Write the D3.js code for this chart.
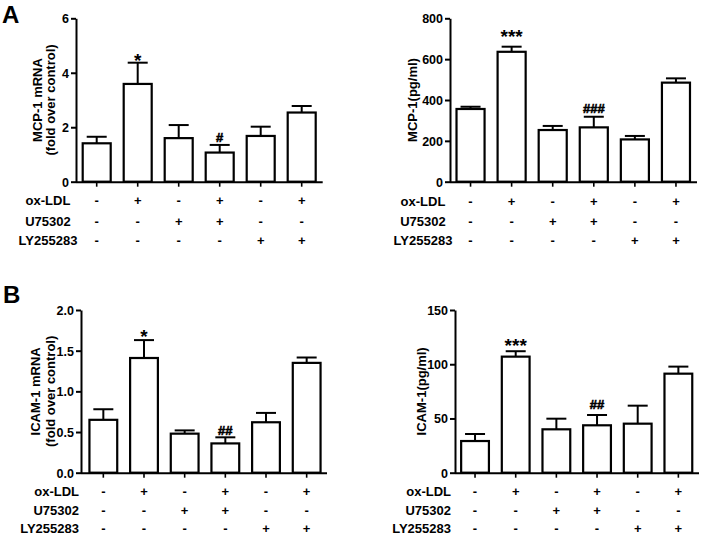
<!DOCTYPE html>
<html>
<head>
<meta charset="utf-8">
<script src="https://cdn.jsdelivr.net/npm/d3@7"></script>
<style>
  html, body { margin: 0; padding: 0; background: #fff; }
  svg { display: block; }
  text { font-family: "Liberation Sans", Arial, sans-serif; font-weight: bold; fill: #000; }
</style>
</head>
<body>
<svg id="chart" width="703" height="536"></svg>
<script>
// ---------- data ----------
const groups = ["g1", "g2", "g3", "g4", "g5", "g6"];
const rowLabels = ["ox-LDL", "U75302", "LY255283"];
const oxLDL   = ["-", "+", "-", "+", "-", "+"];
const U75302  = ["-", "-", "+", "+", "-", "-"];
const LY255283 = ["-", "-", "-", "-", "+", "+"];

const mcpMrna     = [1.41, 3.59, 1.60, 1.07, 1.68, 2.54];
const mcpMrnaErr  = [0.24, 0.78, 0.48, 0.28, 0.34, 0.24];
const mcpMrnaSig  = ["", "*", "", "#", "", ""];
const mcpMrnaTicks = [0, 2, 4, 6];

const mcpProt     = [356, 636, 253, 266, 207, 485];
const mcpProtErr  = [11, 25, 20, 52, 17, 21];
const mcpProtSig  = ["", "***", "", "###", "", ""];
const mcpProtTicks = [0, 200, 400, 600, 800];

const icamMrna    = [0.65, 1.41, 0.48, 0.36, 0.62, 1.35];
const icamMrnaErr = [0.13, 0.22, 0.04, 0.075, 0.115, 0.066];
const icamMrnaSig = ["", "*", "", "##", "", ""];
const icamMrnaTicks = [0, 0.5, 1.0, 1.5, 2.0];

const icamProt    = [29.2, 107, 40, 43.7, 45.2, 91.3];
const icamProtErr = [6.5, 5, 9.8, 9.5, 16.6, 6.5];
const icamProtSig = ["", "***", "", "##", "", ""];
const icamProtTicks = [0, 50, 100, 150];

const yLabelMcpMrna = ["MCP-1 mRNA", "(fold over control)"];
const yLabelMcpProt = ["MCP-1(pg/ml)"];
const yLabelIcamMrna = ["ICAM-1 mRNA", "(fold over control)"];
const yLabelIcamProt = ["ICAM-1(pg/ml)"];

// ---------- drawing ----------
const svg = d3.select("#chart");
const rows = [oxLDL, U75302, LY255283];

function drawPanel(cfg) {
  const g = svg.append("g");
  const x = d3.scaleBand().domain(groups)
    .range([cfg.bandStart, cfg.bandEnd])
    .paddingInner(0.317).paddingOuter(0.1585);
  const y = d3.scaleLinear().domain(cfg.domain).range([cfg.yBot, cfg.yTop]);

  // bars
  g.selectAll("rect.bar").data(cfg.values).join("rect")
    .attr("x", (d, i) => x(groups[i]))
    .attr("y", d => y(d))
    .attr("width", x.bandwidth())
    .attr("height", d => y(0) - y(d))
    .attr("fill", "#fff").attr("stroke", "#000").attr("stroke-width", 2.2);

  // error bars (upper only)
  const cap = 10;
  cfg.values.forEach((v, i) => {
    const cx = x(groups[i]) + x.bandwidth() / 2;
    const yt = y(v + cfg.errors[i]);
    g.append("line").attr("x1", cx).attr("x2", cx).attr("y1", y(v)).attr("y2", yt)
      .attr("stroke", "#000").attr("stroke-width", 2);
    g.append("line").attr("x1", cx - cap).attr("x2", cx + cap).attr("y1", yt).attr("y2", yt)
      .attr("stroke", "#000").attr("stroke-width", 2);
    const s = cfg.sig[i];
    if (s) {
      const isStar = s[0] === "*";
      const t = g.append("text").attr("x", cx).attr("y", yt + (isStar ? cfg.starOff : cfg.hashOff))
        .attr("text-anchor", "middle")
        .attr("font-size", isStar ? 19 : 13)
        .text(s);
      if (!isStar) t.attr("stroke", "#000").attr("stroke-width", 0.6);
    }
  });

  // y axis
  const yAxis = d3.axisLeft(y).tickValues(cfg.ticks).tickSize(5).tickSizeOuter(0)
    .tickFormat(cfg.fmt);
  const ya = g.append("g").attr("transform", `translate(${cfg.axisX},0)`).call(yAxis);
  ya.attr("font-family", null).attr("font-size", null);
  ya.select(".domain").attr("stroke-width", 2);
  ya.selectAll(".tick line").attr("stroke-width", 2);
  ya.selectAll(".tick text").attr("font-size", 12.5)
    .attr("x", -7).attr("dy", "0.36em");

  // x axis
  const xAxis = d3.axisBottom(x).tickSize(5).tickSizeOuter(0).tickFormat("");
  const xa = g.append("g").attr("transform", `translate(0,${cfg.yBot})`).call(xAxis);
  xa.select(".domain").attr("d", `M${cfg.axisX},0.5H${cfg.axisEnd}`).attr("stroke-width", 2);
  xa.selectAll(".tick line").attr("stroke-width", 1.6);

  // y label
  cfg.yLabel.forEach((t, k) => {
    g.append("text")
      .attr("transform", `translate(${cfg.yLabelX[k]},${(cfg.yTop + cfg.yBot) / 2}) rotate(-90)`)
      .attr("text-anchor", "middle").attr("dy", "0.35em").attr("font-size", 13)
      .text(t);
  });

  // treatment rows
  rowLabels.forEach((lab, r) => {
    g.append("text").attr("x", cfg.rowLabelX).attr("y", cfg.rowY[r])
      .attr("text-anchor", cfg.rowAnchor).attr("dy", "0.36em").attr("font-size", 13)
      .text(lab);
    rows[r].forEach((s, i) => {
      g.append("text").attr("x", x(groups[i]) + x.bandwidth() / 2).attr("y", cfg.rowY[r])
        .attr("text-anchor", "middle").attr("dy", "0.36em").attr("font-size", 13)
        .text(s);
    });
  });
}

drawPanel({
  values: mcpMrna, errors: mcpMrnaErr, sig: mcpMrnaSig, ticks: mcpMrnaTicks,
  domain: [0, 6], fmt: d3.format("d"),
  axisX: 76, bandStart: 76.2, bandEnd: 322.2, axisEnd: 322.7, yTop: 18.3, yBot: 181.7,
  yLabel: yLabelMcpMrna, yLabelX: [37, 50],
  rowY: [200.5, 221, 240.5], rowLabelX: 48, rowAnchor: "middle",
  starOff: 4, hashOff: -3
});
drawPanel({
  values: mcpProt, errors: mcpProtErr, sig: mcpProtSig, ticks: mcpProtTicks,
  domain: [0, 800], fmt: d3.format("d"),
  axisX: 450, bandStart: 450, bandEnd: 696.5, axisEnd: 697, yTop: 18.3, yBot: 181.7,
  yLabel: yLabelMcpProt, yLabelX: [412.7],
  rowY: [201, 221, 240.5], rowLabelX: 423, rowAnchor: "middle",
  starOff: -4, hashOff: -4
});
drawPanel({
  values: icamMrna, errors: icamMrnaErr, sig: icamMrnaSig, ticks: icamMrnaTicks,
  domain: [0, 2], fmt: d3.format(".1f"),
  axisX: 81, bandStart: 83, bandEnd: 327, axisEnd: 327, yTop: 310, yBot: 472.7,
  yLabel: yLabelIcamMrna, yLabelX: [35, 50.7],
  rowY: [491.5, 510.5, 528.5], rowLabelX: 79, rowAnchor: "end",
  starOff: 3, hashOff: -2
});
drawPanel({
  values: icamProt, errors: icamProtErr, sig: icamProtSig, ticks: icamProtTicks,
  domain: [0, 150], fmt: d3.format("d"),
  axisX: 455, bandStart: 454.7, bandEnd: 698.7, axisEnd: 699, yTop: 310, yBot: 472.7,
  yLabel: yLabelIcamProt, yLabelX: [421.7],
  rowY: [491.5, 510.5, 528.5], rowLabelX: 451, rowAnchor: "end",
  starOff: 1, hashOff: -5.5
});

// panel letters
svg.append("text").attr("x", 2).attr("y", 23).attr("font-size", 24).text("A");
svg.append("text").attr("x", 3).attr("y", 303).attr("font-size", 24).text("B");
</script>
</body>
</html>
